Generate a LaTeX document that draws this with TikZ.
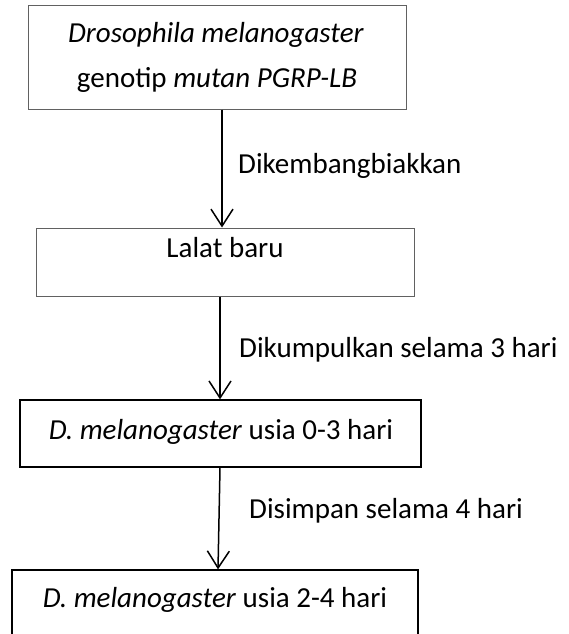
\documentclass[tikz,border=0pt]{standalone}
\usepackage{fontspec}
\setmainfont{Carlito}
\usetikzlibrary{arrows.meta}
\begin{document}
\begin{tikzpicture}[x=1pt,y=-1pt,
  boxg/.style={draw=black!62,line width=1pt,rectangle,inner sep=0pt},
  boxk/.style={draw=black,line width=1.3pt,rectangle,inner sep=0pt},
  txt/.style={anchor=base,inner sep=0pt,font=\fontsize{29pt}{35pt}\selectfont},
  lbl/.style={anchor=base west,inner sep=0pt,font=\fontsize{29pt}{35pt}\selectfont},
  arr/.style={line width=1.5pt,-{Straight Barb[length=17pt,width=22pt,line width=1.5pt]}}]
\useasboundingbox (0,0) rectangle (569,634);
\clip (0,0) rectangle (569,634);
% boxes
\node[boxg,minimum width=378pt,minimum height=103pt] (b1) at (217,57.5) {};
\node[boxg,minimum width=378pt,minimum height=68pt] (b2) at (225,262) {};
\node[boxk,minimum width=401pt,minimum height=67pt] (b3) at (220.5,433.5) {};
\node[boxk,minimum width=406pt,minimum height=90pt] (b4) at (215,615) {};
% box texts
\node[txt] (t1a) at (216,43) {\textit{Drosophila melanogaster}};
\node[txt] (t1b) at (217,88) {genotip \textit{mutan PGRP-LB}};
\node[txt] (t2) at (225,257) {Lalat baru};
\node[txt] (t3) at (221,439) {\textit{D. melanogaster} usia 0-3 hari};
\node[txt] (t4) at (215,607) {\textit{D. melanogaster} usia 2-4 hari};
% arrow x positions
\coordinate (x1) at (222,0);
\coordinate (x2) at (220,0);
\coordinate (x3a) at (220,0);
\coordinate (x3b) at (218,0);
% connectors
\draw[arr] (b1.south -| x1) -- (b2.north -| x1);
\draw[arr] (b2.south -| x2) -- (b3.north -| x2);
\draw[arr] (b3.south -| x3a) -- (b4.north -| x3b);
% labels
\node[lbl] (l1) at (238,173) {Dikembangbiakkan};
\node[lbl] (l2) at (239,357) {Dikumpulkan selama 3 hari};
\node[lbl] (l3) at (249,518) {Disimpan selama 4 hari};
\end{tikzpicture}
\end{document}
